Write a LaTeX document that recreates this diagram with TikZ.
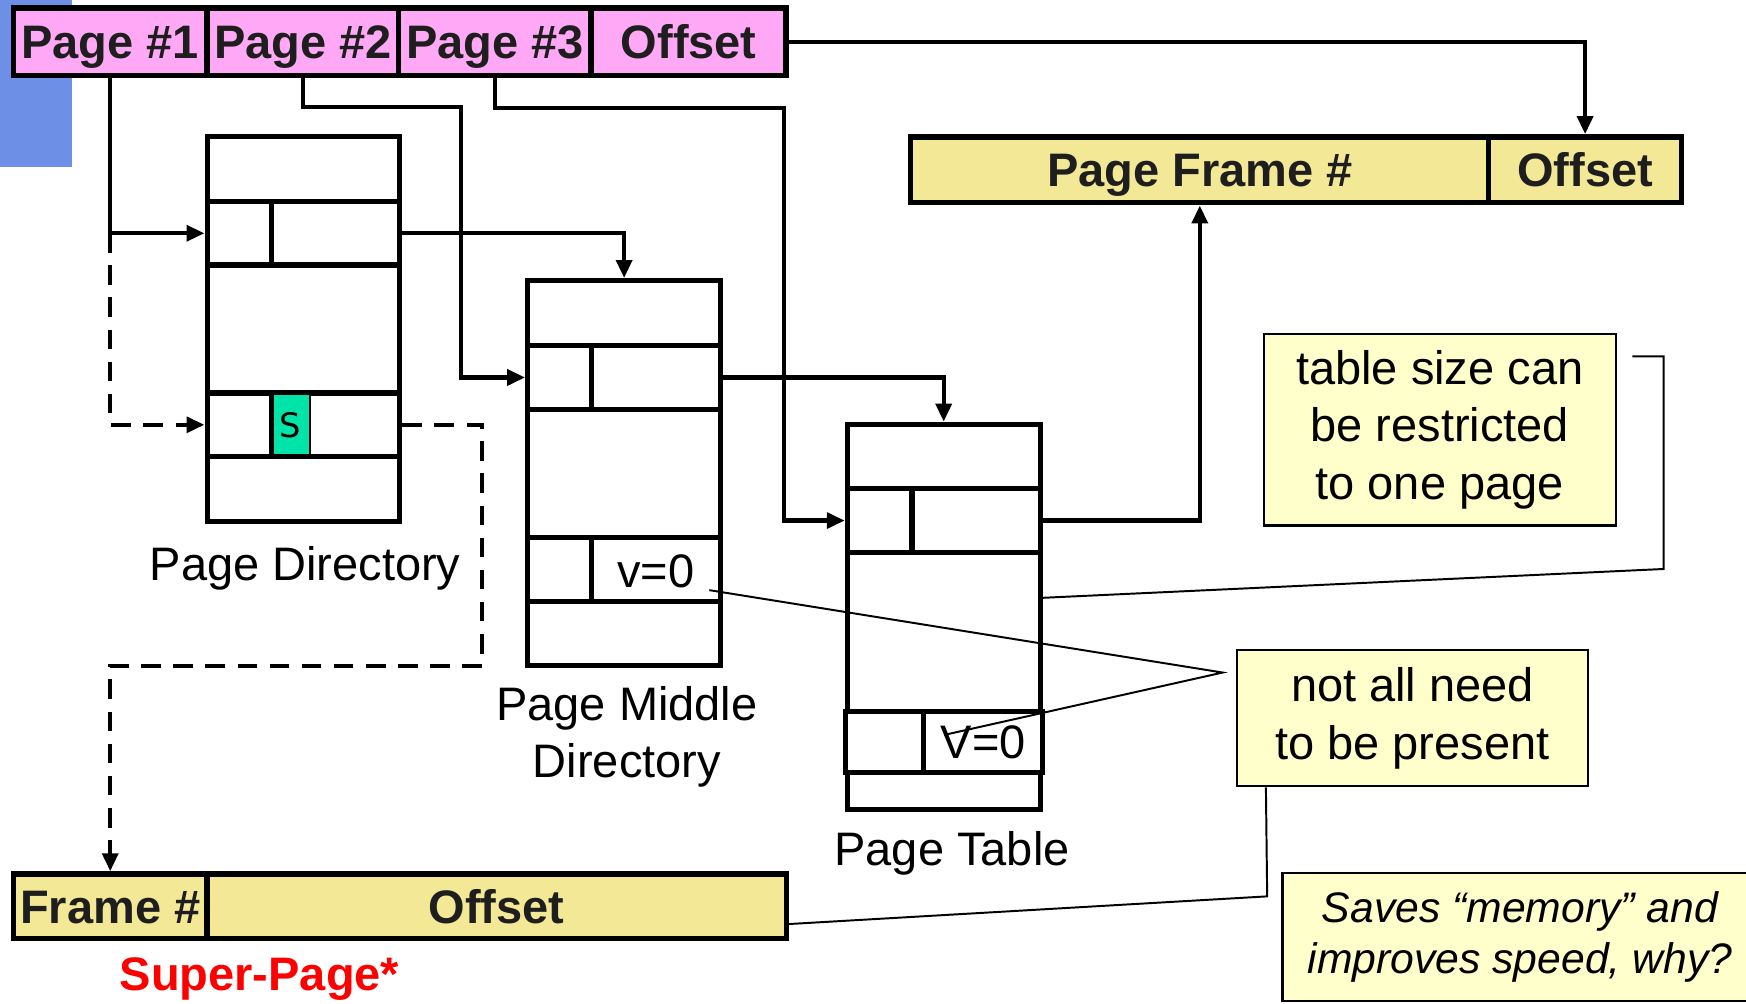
\documentclass[tikz,border=0pt]{standalone}
\usepackage{fontspec}
\setmainfont{Liberation Sans}
\newfontfamily\dejavu{DejaVu Sans}
\usetikzlibrary{arrows.meta,calc}

\definecolor{barpink}{RGB}{255,168,245}
\definecolor{baryellow}{RGB}{242,232,150}
\definecolor{noteyellow}{RGB}{255,255,204}
\definecolor{sideblue}{RGB}{110,143,230}
\definecolor{entrygreen}{RGB}{0,228,170}
\definecolor{inkdark}{RGB}{30,30,30}

\begin{document}
\begin{tikzpicture}[x=0.01cm,y=-0.01cm,
  field/.style={draw=black, line width=1.4pt, inner sep=0,
    text height=8.6pt, text depth=0pt,
    font=\fontsize{12}{14}\selectfont\bfseries, text=inkdark},
  vfield/.style={field, fill=barpink, minimum height=0.61cm},
  pfield/.style={field, fill=baryellow, minimum height=0.59cm},
  trow/.style={draw=black, line width=1.3pt, inner sep=0, minimum width=1.73cm},
  divider/.style={line width=1.3pt},
  lbl/.style={inner sep=0, align=center, font=\fontsize{12}{14.5}\selectfont},
  note/.style={draw=black, line width=0.6pt, fill=noteyellow, inner sep=0,
    align=center, font=\fontsize{12}{14.7}\selectfont},
  link/.style={line width=1.1pt, -{Triangle[length=4.6pt,width=4pt]}},
  dlink/.style={link, dash pattern=on 5pt off 3.2pt},
  callout/.style={line width=0.5pt}]

\useasboundingbox (0,0) rectangle (1568,901);

% side accent
\fill[sideblue] (0,0) rectangle (65,150);

% virtual address
\node[vfield, minimum width=1.74cm] (p1) at (99,37.5) {Page \#1};
\node[vfield, minimum width=1.72cm] (p2) at (272,37.5) {Page \#2};
\node[vfield, minimum width=1.73cm] (p3) at (444.5,37.5) {Page \#3};
\node[vfield, minimum width=1.75cm] (off) at (618.5,37.5) {Offset};

% physical address
\node[pfield, minimum width=5.19cm] (pf) at (1077.5,152.5) {Page Frame \#};
\node[pfield, minimum width=1.73cm] (pfo) at (1423.5,152.5) {Offset};

% super-page address
\node[pfield, minimum width=1.74cm, minimum height=0.58cm] (fr) at (99,814) {Frame \#};
\node[pfield, minimum width=5.20cm, minimum height=0.58cm] (fo) at (446,814) {Offset};
\node[lbl, font=\fontsize{12}{14}\selectfont\bfseries, text=red] (sp) at (233,879) {Super-Page*};

% page directory
\node[trow, minimum height=0.58cm] (pdA) at (272.5,152) {};
\node[trow, minimum height=0.57cm] (pdB) at (272.5,209.5) {};
\node[trow, minimum height=1.15cm] (pdC) at (272.5,295.5) {};
\node[trow, minimum height=0.57cm] (pdD) at (272.5,381.5) {};
\node[trow, minimum height=0.58cm] (pdE) at (272.5,439) {};
\node[draw=black, line width=0.5pt, fill=entrygreen, inner sep=0,
  minimum width=0.34cm, minimum height=0.55cm,
  font=\dejavu\fontsize{8.6}{10}\selectfont] (pdS) at (261,381.5) {S};
\draw[divider] (244,181) -- (244,238);
\draw[divider] (244,353) -- (244,410);
\node[lbl] (pdL) at (274,510) {Page Directory};

% page middle directory
\node[trow, minimum height=0.58cm] (pmdA) at (560.5,281) {};
\node[trow, minimum height=0.58cm] (pmdB) at (560.5,339) {};
\node[trow, minimum height=1.15cm] (pmdC) at (560.5,425.5) {};
\node[trow, minimum height=0.57cm] (pmdD) at (560.5,511.5) {};
\node[trow, minimum height=0.58cm] (pmdE) at (560.5,569) {};
\draw[divider] (531,310) -- (531,368);
\draw[divider] (531,483) -- (531,540);
\node[lbl] (pmdV) at (589,513) {v=0};
\node[lbl] (pmdL) at (563,662) {Page Middle\\Directory};

% page table
\node[trow, minimum height=0.58cm] (ptA) at (847.5,410) {};
\node[trow, minimum height=0.57cm] (ptB) at (847.5,467.5) {};
\node[trow, minimum height=1.43cm] (ptC) at (847.5,567.5) {};
\node[trow, minimum height=0.33cm] (ptE) at (847.5,710.5) {};
\node[trow, minimum width=1.77cm, minimum height=0.55cm] (ptD) at (848,666.5) {};
\draw[divider] (819,439) -- (819,496);
\draw[divider] (829,639) -- (829,694);
\node[lbl] (ptV) at (883,667) {V=0};
\node[lbl] (ptL) at (855,766) {Page Table};

% notes
\node[note, minimum width=3.16cm, minimum height=1.72cm] (nSize) at (1293,386)
  {table size can\\be restricted\\to one page};
\node[note, minimum width=3.15cm, minimum height=1.22cm] (nPres) at (1268.5,645)
  {not all need\\to be present};
\node[note, minimum width=4.26cm, minimum height=1.15cm,
  font=\fontsize{10.9}{12.8}\selectfont\itshape] (nSave) at (1365,841.5)
  {Saves “memory” and\\improves speed, why?};

% translation walk
\draw[link] (p1.south) |- (pdB.west);
\draw[dlink] (p1.south |- pdB.west) |- (pdD.west);
\draw[dlink] (pdD.east) -| (433,598) -| (fr.north);
\draw[link] (p2.south) |- (414,96) |- (pmdB.west);
\draw[link] (p3.south) |- (704,97) |- (ptB.west);
\draw[link] (off.east) -| (pfo.north);
\draw[link] (pdB.east) -| (pmdA.north);
\draw[link] (pmdB.east) -| (ptA.north);
\draw[link] (ptB.east) -| (pf.south);

% note leaders
\coordinate (sizeTail) at (1466,320);
\coordinate (sizeBend) at (1494,511);
\coordinate (sizeHead) at (934,537);
\draw[callout] (sizeTail) -| (sizeBend) -- (sizeHead);

\coordinate (presApex) at (1098,604);
\coordinate (presA) at (637,530);
\coordinate (presB) at (848,660);
\draw[callout] (presA) -- (presApex) -- (presB);

\coordinate (saveTop) at ($(nPres.south west)+(27,0)$);
\coordinate (saveBend) at (1138,805);
\coordinate (saveHead) at (706,830);
\draw[callout] (saveTop) -- (saveBend) -- (saveHead);

\end{tikzpicture}
\end{document}
